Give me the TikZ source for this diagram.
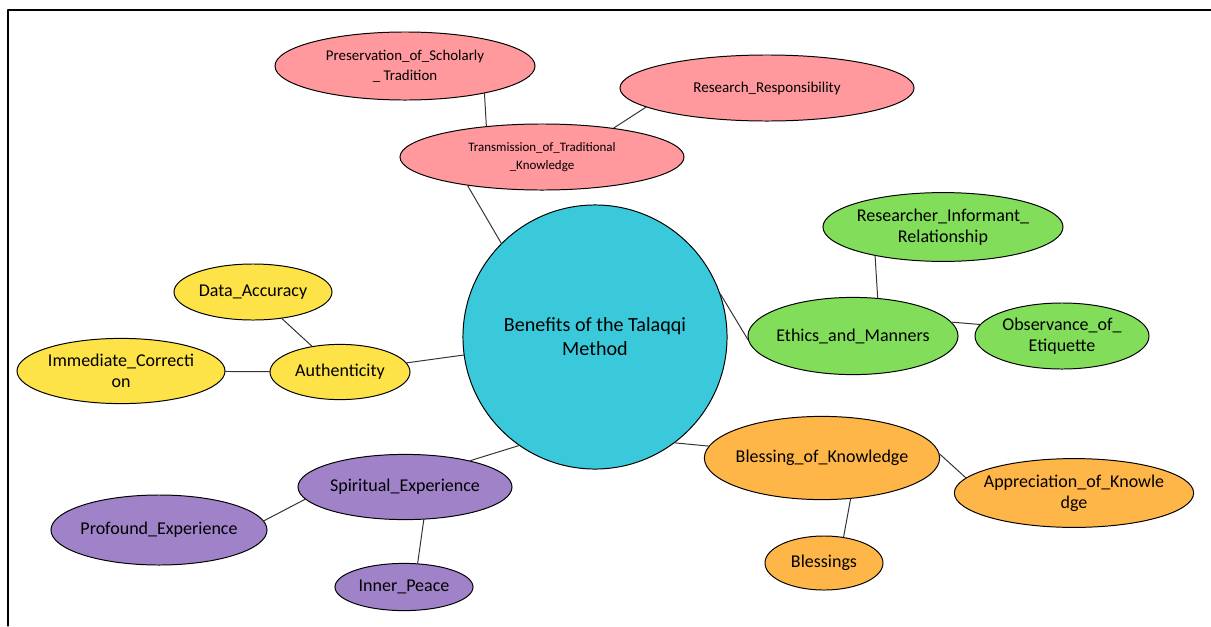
\documentclass[tikz,border=0pt]{standalone}
\usepackage{fontspec}
\setmainfont{Carlito}
\usetikzlibrary{shapes.geometric}
\definecolor{hubcyan}{RGB}{58,201,219}
\definecolor{tpink}{RGB}{255,153,158}
\definecolor{egreen}{RGB}{130,222,90}
\definecolor{ayellow}{RGB}{253,226,72}
\definecolor{spurple}{RGB}{160,130,200}
\definecolor{borange}{RGB}{255,182,72}
\tikzset{
  bubble/.style={ellipse, draw=black, line width=0.7pt, inner xsep=-20pt, inner ysep=0pt,
    align=center, font=\fontsize{12.8}{15}\selectfont},
  link/.style={draw=black!80, line width=0.7pt}
}
\begin{document}
\begin{tikzpicture}[x=0.025cm, y=-0.025cm, line join=round, line cap=round]
  \useasboundingbox (0,0) rectangle (1211,626);
  \draw[line width=0.9pt] (8,626) -- (8,10) -- (1211,10);
  % centre
  \node[circle, draw=black, line width=0.7pt, fill=hubcyan, minimum size=6.6cm, align=center,
    font=\fontsize{14.3}{17}\selectfont] (hub) at (595,337) {Benefits of the Talaqqi\\Method};
  % pink branch
  \node[bubble, fill=tpink, minimum width=7.1cm, minimum height=1.65cm,
    font=\fontsize{9.2}{13}\selectfont] (trans) at (542,157)
    {Transmission\_of\_Traditional\\\_Knowledge};
  \node[bubble, fill=tpink, minimum width=6.5cm, minimum height=1.7cm,
    font=\fontsize{10.6}{14}\selectfont] (pres) at (405,66)
    {Preservation\_of\_Scholarly\\\_ Tradition};
  \node[bubble, fill=tpink, minimum width=7.35cm, minimum height=1.65cm,
    font=\fontsize{10.7}{13}\selectfont] (resp) at (767,88) {Research\_Responsibility};
  % green branch
  \node[bubble, fill=egreen, minimum width=6.0cm, minimum height=1.72cm] (rir) at (943,227)
    {Researcher\_Informant\_\\Relationship};
  \node[bubble, fill=egreen, minimum width=5.25cm, minimum height=1.93cm] (ethics) at (853,336)
    {Ethics\_and\_Manners};
  \node[bubble, fill=egreen, minimum width=4.35cm, minimum height=1.65cm] (obs) at (1062,336)
    {Observance\_of\_\\Etiquette};
  % yellow branch
  \node[bubble, fill=ayellow, minimum width=3.95cm, minimum height=1.4cm] (data) at (253,292)
    {Data\_Accuracy};
  \node[bubble, fill=ayellow, minimum width=3.5cm, minimum height=1.38cm] (auth) at (340,372)
    {Authenticity};
  \node[bubble, fill=ayellow, minimum width=5.2cm, minimum height=1.63cm] (imm) at (121,371)
    {Immediate\_Correcti\\on};
  % purple branch
  \node[bubble, fill=spurple, minimum width=5.35cm, minimum height=1.63cm] (spirit) at (405,487)
    {Spiritual\_Experience};
  \node[bubble, fill=spurple, minimum width=5.4cm, minimum height=1.75cm] (prof) at (159,530)
    {Profound\_Experience};
  \node[bubble, fill=spurple, minimum width=3.45cm, minimum height=1.18cm] (inner) at (404,587)
    {Inner\_Peace};
  % orange branch
  \node[bubble, fill=borange, minimum width=5.88cm, minimum height=2.08cm] (bok) at (822,458)
    {Blessing\_of\_Knowledge};
  \node[bubble, fill=borange, minimum width=5.98cm, minimum height=1.72cm] (aok) at (1074,493)
    {Appreciation\_of\_Knowle\\dge};
  \node[bubble, fill=borange, minimum width=2.95cm, minimum height=1.35cm] (bless) at (824,563)
    {Blessings};
  % links
  \path[link] (hub.135) -- (trans.201);
  \path[link] (trans.151) -- (pres.341);
  \path[link] (trans.22) -- (resp.189);
  \path[link] (hub.19) -- (ethics.182);
  \path[link] (ethics.57) -- (rir.203);
  \path[link] (ethics.8) -- (obs.172);
  \path[link] (hub) -- (auth);
  \path[link] (auth) -- (data);
  \path[link] (auth) -- (imm);
  \path[link] (hub.235) -- (spirit.22);
  \path[link] (spirit.187) -- (prof.5);
  \path[link] (spirit.300) -- (inner.60);
  \path[link] (hub.307) -- (bok.174);
  \path[link] (bok.2) -- (aok.172);
  \path[link] (bok.305) -- (bless.53);
\end{tikzpicture}
\end{document}
